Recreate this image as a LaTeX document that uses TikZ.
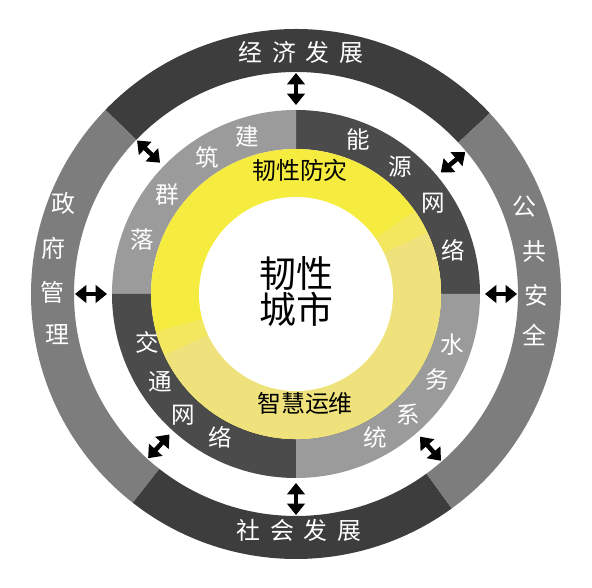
\documentclass[tikz,border=0pt]{standalone}
\usepackage{fontspec}
\usepackage{tikz}
\usetikzlibrary{arrows.meta}
\newfontfamily\cjk{Noto Sans CJK SC}
\definecolor{outdark}{HTML}{3D3D3D}
\definecolor{outgray}{HTML}{7D7D7D}
\definecolor{middark}{HTML}{4B4B4B}
\definecolor{midgray}{HTML}{9B9B9B}
\definecolor{ybright}{HTML}{F5EC3F}
\definecolor{ypale}{HTML}{EFE27C}
\begin{document}
\begin{tikzpicture}[
  outtxt/.style={text=white,inner sep=0pt,font=\cjk\fontsize{13.6}{16}\selectfont},
  midtxt/.style={text=white,inner sep=0pt,font=\cjk\fontsize{13.4}{16}\selectfont},
  yeltxt/.style={text=black,inner sep=0pt,font=\cjk\fontsize{13.6}{16}\selectfont},
  link/.style={line width=2.6pt,{Triangle[width=10pt,length=6.5pt]}-{Triangle[width=10pt,length=6.5pt]}}]
\useasboundingbox (-5.92,-5.88) rectangle (5.92,5.88);

\fill[outdark] (43:5.3) arc[start angle=43,end angle=136,radius=5.3] -- (136:4.44) arc[start angle=136,end angle=43,radius=4.44] -- cycle;
\fill[outgray] (136:5.3) arc[start angle=136,end angle=232,radius=5.3] -- (232:4.44) arc[start angle=232,end angle=136,radius=4.44] -- cycle;
\fill[outdark] (232:5.3) arc[start angle=232,end angle=306,radius=5.3] -- (306:4.44) arc[start angle=306,end angle=232,radius=4.44] -- cycle;
\fill[outgray] (306:5.3) arc[start angle=306,end angle=403,radius=5.3] -- (403:4.44) arc[start angle=403,end angle=306,radius=4.44] -- cycle;

\fill[middark] (0:3.68) arc[start angle=0,end angle=90,radius=3.68] -- (90:2.9) arc[start angle=90,end angle=0,radius=2.9] -- cycle;
\fill[midgray] (90:3.68) arc[start angle=90,end angle=180,radius=3.68] -- (180:2.9) arc[start angle=180,end angle=90,radius=2.9] -- cycle;
\fill[middark] (180:3.68) arc[start angle=180,end angle=270,radius=3.68] -- (270:2.9) arc[start angle=270,end angle=180,radius=2.9] -- cycle;
\fill[midgray] (270:3.68) arc[start angle=270,end angle=360,radius=3.68] -- (360:2.9) arc[start angle=360,end angle=270,radius=2.9] -- cycle;

\fill[ybright] (0,0) circle [radius=2.9];
\fill[ybright!50!ypale] (195:2.9) arc[start angle=195,end angle=395,radius=2.9] -- (395:1.94) arc[start angle=395,end angle=195,radius=1.94] -- cycle;
\fill[ypale] (205:2.9) arc[start angle=205,end angle=385,radius=2.9] -- (385:1.94) arc[start angle=385,end angle=205,radius=1.94] -- cycle;
\fill[white] (0,0) circle [radius=1.94];

\node[outtxt] (jj) at (0.1,4.84) {经\hspace{0.2cm}济\hspace{0.2cm}发\hspace{0.2cm}展};
\node[outtxt] (sh) at (0.06,-4.72) {社\hspace{0.2cm}会\hspace{0.2cm}发\hspace{0.2cm}展};
\node[outtxt] (zf1) at (-4.66,1.82) {政};
\node[outtxt] (zf2) at (-4.86,0.92) {府};
\node[outtxt] (zf3) at (-4.88,0.04) {管};
\node[outtxt] (zf4) at (-4.78,-0.82) {理};
\node[outtxt] (gg1) at (4.56,1.74) {公};
\node[outtxt] (gg2) at (4.76,0.84) {共};
\node[outtxt] (gg3) at (4.8,-0.02) {安};
\node[outtxt] (gg4) at (4.76,-0.82) {全};

\node[midtxt] (jz1) at (-0.98,3.14) {建};
\node[midtxt] (jz2) at (-1.78,2.74) {筑};
\node[midtxt] (jz3) at (-2.58,1.98) {群};
\node[midtxt] (jz4) at (-3.08,1.08) {落};
\node[midtxt] (ny1) at (1.24,3.08) {能};
\node[midtxt] (ny2) at (2.08,2.54) {源};
\node[midtxt] (ny3) at (2.74,1.82) {网};
\node[midtxt] (ny4) at (3.14,0.88) {络};
\node[midtxt] (sw1) at (3.12,-1.02) {水};
\node[midtxt] (sw2) at (2.82,-1.72) {务};
\node[midtxt] (sw3) at (2.24,-2.42) {系};
\node[midtxt] (sw4) at (1.58,-2.86) {统};
\node[midtxt] (jt1) at (-2.98,-0.96) {交};
\node[midtxt] (jt2) at (-2.72,-1.76) {通};
\node[midtxt] (jt3) at (-2.26,-2.42) {网};
\node[midtxt] (jt4) at (-1.52,-2.86) {络};

\node[yeltxt] (fz) at (0.08,2.48) {韧性防灾};
\node[yeltxt] (yw) at (0.18,-2.18) {智慧运维};
\node[align=center,inner sep=0pt,font=\cjk\fontsize{21}{21}\selectfont] (city) at (0,0.05) {韧性\\城市};

\coordinate (t1) at (90:3.78);
\coordinate (t2) at (90:4.42);
\coordinate (b1) at (270:3.78);
\coordinate (b2) at (270:4.42);
\coordinate (l1) at (180:3.78);
\coordinate (l2) at (180:4.42);
\coordinate (r1) at (0:3.78);
\coordinate (r2) at (0:4.42);
\coordinate (ul1) at (136:3.78);
\coordinate (ul2) at (136:4.42);
\coordinate (ur1) at (40:3.78);
\coordinate (ur2) at (40:4.42);
\coordinate (ll1) at (228:3.78);
\coordinate (ll2) at (228:4.42);
\coordinate (lr1) at (311:3.78);
\coordinate (lr2) at (311:4.42);

\draw[link] (t1) -- (t2);
\draw[link] (b1) -- (b2);
\draw[link] (l1) -- (l2);
\draw[link] (r1) -- (r2);
\draw[link] (ul1) -- (ul2);
\draw[link] (ur1) -- (ur2);
\draw[link] (ll1) -- (ll2);
\draw[link] (lr1) -- (lr2);
\end{tikzpicture}
\end{document}
